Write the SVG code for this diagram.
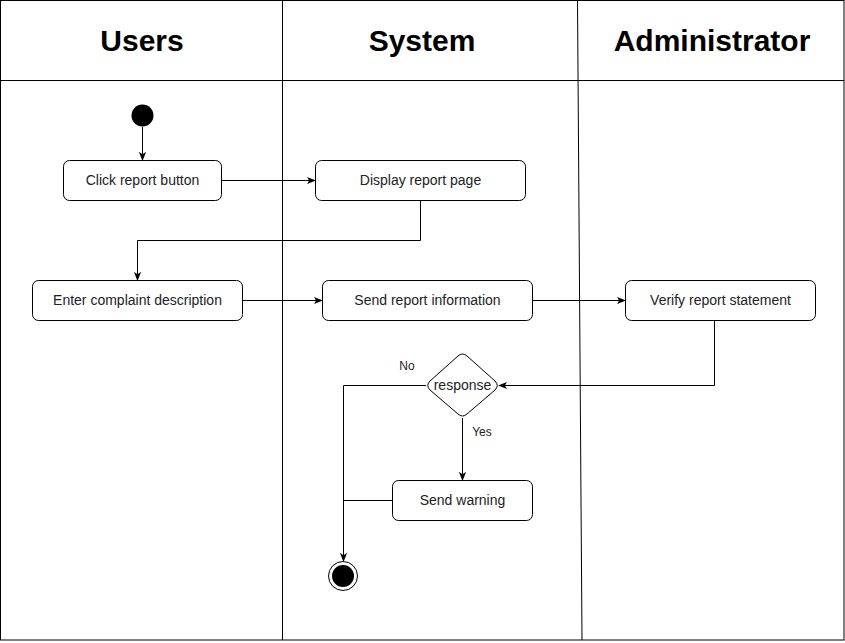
<svg xmlns="http://www.w3.org/2000/svg" width="845" height="643" viewBox="0 0 845 643">
<defs>
<style>
.lane{fill:none;stroke:#000;stroke-width:1}
.box{fill:#fff;stroke:#000;stroke-width:1}
.t{font-family:"Liberation Sans",Arial,sans-serif;font-size:14px;fill:#222;text-anchor:middle;dominant-baseline:central}
.h{font-family:"Liberation Sans",Arial,sans-serif;font-size:30px;font-weight:bold;fill:#000;text-anchor:middle;dominant-baseline:central}
.lbl{font-family:"Liberation Sans",Arial,sans-serif;font-size:12px;fill:#222;text-anchor:middle;dominant-baseline:central}
.c{fill:none;stroke:#000;stroke-width:1}
</style>
<marker id="arr" viewBox="0 0 10 10" refX="9" refY="5" markerWidth="9" markerHeight="9" markerUnits="userSpaceOnUse" orient="auto">
<path d="M0,1 L10,5 L0,9 L2.5,5 z" fill="#000"/>
</marker>
</defs>
<rect width="845" height="643" fill="#fff"/>
<g id="lanes">
<rect class="lane" x="0.5" y="0.5" width="843.5" height="639.5"/>
<line class="lane" x1="0.5" y1="80.5" x2="844" y2="80.5"/>
<line class="lane" x1="282.5" y1="0.5" x2="282.5" y2="640"/>
<line class="lane" x1="577.5" y1="0.5" x2="582" y2="640"/>
<text class="h" x="142" y="40">Users</text>
<text class="h" x="422" y="40">System</text>
<text class="h" x="712" y="40">Administrator</text>
</g>
<g id="connectors">
<line class="c" x1="142.5" y1="127" x2="142.5" y2="160" marker-end="url(#arr)"/>
<line class="c" x1="221" y1="180.5" x2="315" y2="180.5" marker-end="url(#arr)"/>
<polyline class="c" points="420.5,200 420.5,240.5 137.5,240.5 137.5,280" marker-end="url(#arr)"/>
<line class="c" x1="242" y1="300.5" x2="322" y2="300.5" marker-end="url(#arr)"/>
<line class="c" x1="532" y1="300.5" x2="625" y2="300.5" marker-end="url(#arr)"/>
<polyline class="c" points="714.5,320 714.5,385.5 499,385.5" marker-end="url(#arr)"/>
<line class="c" x1="462.5" y1="418" x2="462.5" y2="480" marker-end="url(#arr)"/>
<polyline class="c" points="426,385.5 343.5,385.5 343.5,561" marker-end="url(#arr)"/>
<line class="c" x1="392" y1="500.5" x2="343.5" y2="500.5"/>
<text class="lbl" x="407" y="366">No</text>
<text class="lbl" x="482" y="432">Yes</text>
</g>
<g id="start"><circle cx="142.5" cy="115.5" r="11" fill="#000"/></g>
<g id="click"><rect class="box" x="63.5" y="160.5" width="158" height="40" rx="6"/><text class="t" x="142.5" y="179.5">Click report button</text></g>
<g id="display"><rect class="box" x="315.5" y="160.5" width="210" height="40" rx="6"/><text class="t" x="420.5" y="179.5">Display report page</text></g>
<g id="enter"><rect class="box" x="32.5" y="280.5" width="210" height="40" rx="6"/><text class="t" x="137.5" y="299.5">Enter complaint description</text></g>
<g id="send"><rect class="box" x="322.5" y="280.5" width="210" height="40" rx="6"/><text class="t" x="427.5" y="299.5">Send report information</text></g>
<g id="verify"><rect class="box" x="625.5" y="280.5" width="190" height="40" rx="6"/><text class="t" x="720.5" y="299.5">Verify report statement</text></g>
<g id="response"><path class="box" d="M458,356 Q462.5,352 467,356 L495,381 Q499.5,385.5 495,390 L467,414 Q462.5,418 458,414 L430,390 Q425.5,385.5 430,381 Z"/><text class="t" x="462.5" y="384.5">response</text></g>
<g id="warning"><rect class="box" x="392.5" y="480.5" width="140" height="40" rx="6"/><text class="t" x="462.5" y="499.5">Send warning</text></g>
<g id="end"><circle cx="343" cy="576" r="14.5" fill="#fff" stroke="#000" stroke-width="1"/><circle cx="343" cy="576" r="11" fill="#000"/></g>
</svg>
